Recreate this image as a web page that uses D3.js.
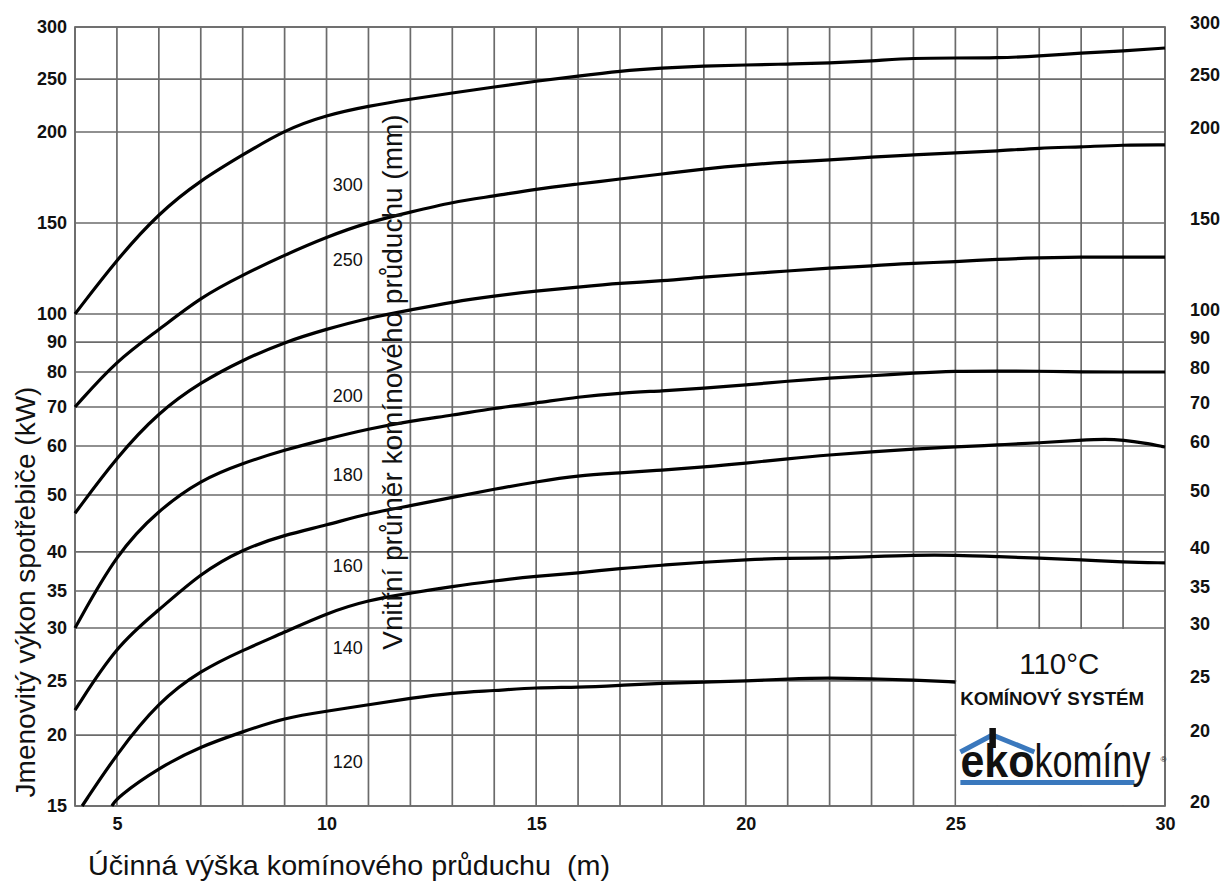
<!DOCTYPE html>
<html><head><meta charset="utf-8">
<script src="https://cdn.jsdelivr.net/npm/d3@7"></script>
<style>
body{margin:0;background:#fff}
svg{display:block}
text{font-family:"Liberation Sans",Arial,Helvetica,sans-serif;fill:#111}
</style>
</head><body>
<svg id="chart" width="1225" height="886"></svg>
<script>
// ---------- DATA ----------
const xTickValues = [5, 10, 15, 20, 25, 30];
const xGridValues = [4,5,6,7,8,9,10,11,12,13,14,15,16,17,18,19,20,21,22,23,24,25,26,27,28,29,30];
const yTickValues = [300, 250, 200, 150, 100, 90, 80, 70, 60, 50, 40, 35, 30, 25, 20, 15];
const yLeftLabels = ["300","250","200","150","100","90","80","70","60","50","40","35","30","25","20","15"];
const yRightLabels = ["300","250","200","150","100","90","80","70","60","50","40","35","30","25","20","20"];
// the printed kW axis is non-uniform: relative position (0 = top, 1 = bottom) of each tick
const yTickFraction = [0, 0.0668, 0.1348, 0.2516, 0.3684, 0.4044, 0.4429, 0.4878, 0.5379, 0.6008, 0.6739, 0.7240, 0.7715, 0.8395, 0.9089, 1];

const hFull = [4,5,6,7,8,9,10,11,12,13,14,15,16,17,18,19,20,21,22,23,24,25,26,27,28,29,30];
const d300 = [100,130,155.5,173.6,187.4,201.9,216,224.5,231,236.8,242.5,248,252.9,257.7,260.6,262.5,263.5,264.4,265.4,267.3,270.2,270.2,270.2,272,275,277,279.8];
const d250 = [70,84,94.3,109.3,121.4,132.4,142.3,150.5,156,161.5,164.8,168.7,171.4,174.2,176.9,179.7,181.9,183.5,184.6,186.3,187.4,188.5,189.6,191.2,191.8,192.9,192.9];
const d200 = [46.8,57.8,68.7,77.1,84,90,94.6,98.6,102.2,106.6,109.9,112.6,114.8,117,118.1,120.3,122,123.6,125.3,126.4,128,128.6,130.2,130.8,131.3,131.3,131.3];
const d180 = [30,39.9,47.4,53.1,56.5,59.2,61.8,64.4,66.4,67.9,69.7,71.1,72.9,74,74.6,75.4,76.3,77.4,78.3,78.9,79.7,80.3,80.3,80.3,80,80,80];
const h160 = [4,5,6,7,8,9,10,11,12,13,14,15,16,17,18,19,20,21,22,23,24,25,26,27,28,28.6,29,29.5,30];
const d160 = [22.3,28.4,32.4,37.3,40.5,43,44.7,46.8,48.1,49.6,51.2,52.7,54,54.5,55.1,55.7,56.5,57.4,58.2,58.8,59.4,59.8,60.3,60.8,61.5,61.8,61.5,60.8,59.8];
const h140 = [4.17,5,6,7,8,9,10,11,12,13,14,15,16,17,18,19,20,21,22,23,24,25,26,27,28,29,30];
const d140 = [15,18.7,23.1,26,27.9,29.6,32,33.8,34.7,35.6,36.3,36.9,37.3,37.9,38.3,38.7,39,39.2,39.2,39.4,39.6,39.6,39.4,39.2,39,38.7,38.6];
const h120 = [4.88,5,6,7,8,9,10,11,12,13,14,15,16,17,18,19,20,21,22,23,24,25];
const d120 = [15,15.6,17.7,19.2,20.3,21.6,22.2,22.8,23.4,23.9,24.1,24.4,24.4,24.6,24.8,24.9,25,25.2,25.3,25.2,25.1,24.9];

const seriesNames = ["300","250","200","180","160","140","120"];
// anchor of each diameter label, in data units (height m, power kW)
const labelH = [10.15,10.15,10.15,10.15,10.15,10.15,10.15];
const labelKW = [170.9,129.7,73.1,54.1,38.3,28.1,18.1];

const xTitle = "Účinná výška komínového průduchu  (m)";
const yTitle = "Jmenovitý výkon spotřebiče (kW)";
const innerTitle = "Vnitřní průměr komínového průduchu (mm)";
const boxTitle = "110°C";
const boxSubtitle = "KOMÍNOVÝ SYSTÉM";

// ---------- LAYOUT ----------
const plot = {left: 75, right: 1165, top: 27, bottom: 806};
const svg = d3.select("#chart");
const FONT = '"Liberation Sans", Arial, Helvetica, sans-serif';

const x = d3.scaleLinear().domain([4, 30]).range([plot.left, plot.right]);
const y = d3.scaleLinear()
  .domain(yTickValues)
  .range(yTickFraction.map(f => plot.top + f * (plot.bottom - plot.top)));

const gridColor = "#6b6b6b";

// grid
const grid = svg.append("g").attr("stroke", gridColor).attr("stroke-width", 1.7);
grid.selectAll("line.v").data(xGridValues).join("line")
  .attr("x1", d => x(d)).attr("x2", d => x(d))
  .attr("y1", plot.top).attr("y2", plot.bottom);
grid.selectAll("line.h").data(yTickValues).join("line")
  .attr("x1", plot.left).attr("x2", plot.right)
  .attr("y1", d => y(d)).attr("y2", d => y(d));

// legend box (white panel)
const bx0 = x(25), bx1 = x(30), by0 = y(30), by1 = y(15);
svg.append("rect").attr("x", bx0 + 1).attr("y", by0 + 1)
  .attr("width", bx1 - bx0 - 2).attr("height", by1 - by0 - 2).attr("fill", "#fff");

function styleTicks(g) {
  g.select(".domain").remove();
  g.selectAll("text").attr("font-size", 18).attr("font-weight", "bold")
    .attr("font-family", FONT).attr("fill", "#111");
}

// left axis
const leftAxis = d3.axisLeft(y).tickValues(yTickValues).tickSize(0).tickPadding(8)
  .tickFormat((d, i) => yLeftLabels[i]);
svg.append("g").attr("transform", `translate(${plot.left},0)`).call(leftAxis).call(styleTicks);

// right axis
const rightAxis = d3.axisRight(y).tickValues(yTickValues).tickSize(0).tickPadding(25)
  .tickFormat((d, i) => yRightLabels[i]);
svg.append("g").attr("transform", `translate(${plot.right},-4)`).call(rightAxis).call(styleTicks);

// bottom axis
const bottomAxis = d3.axisBottom(x).tickValues(xTickValues).tickSize(0).tickPadding(11)
  .tickFormat(d3.format("d"));
svg.append("g").attr("transform", `translate(0,${plot.bottom})`).call(bottomAxis).call(styleTicks);

// frame
svg.append("rect").attr("x", plot.left).attr("y", plot.top)
  .attr("width", plot.right - plot.left).attr("height", plot.bottom - plot.top)
  .attr("fill", "none").attr("stroke", gridColor).attr("stroke-width", 1.7);

// curves
const series = [
  {h: hFull, v: d300}, {h: hFull, v: d250}, {h: hFull, v: d200}, {h: hFull, v: d180},
  {h: h160, v: d160}, {h: h140, v: d140}, {h: h120, v: d120}
];
const line = d3.line().x(d => x(d[0])).y(d => y(d[1])).curve(d3.curveBasis);
svg.append("g").selectAll("path").data(series).join("path")
  .attr("d", s => line(s.h.map((hv, i) => [hv, s.v[i]])))
  .attr("fill", "none").attr("stroke", "#000").attr("stroke-width", 3.2)
  .attr("stroke-linejoin", "round").attr("stroke-linecap", "butt");

// diameter labels
svg.append("g").selectAll("text").data(seriesNames).join("text")
  .attr("x", (d, i) => x(labelH[i])).attr("y", (d, i) => y(labelKW[i]))
  .attr("dy", "0.35em").attr("font-size", 18).text(d => d);

// inner rotated title
svg.append("text").attr("transform", `translate(402,382) rotate(-90)`)
  .attr("text-anchor", "middle").attr("font-size", 28).text(innerTitle);

// axis titles
svg.append("text").attr("transform", `translate(35,592) rotate(-90)`)
  .attr("text-anchor", "middle").attr("font-size", 28).text(yTitle);
svg.append("text").attr("x", 88).attr("y", 875).attr("xml:space", "preserve")
  .attr("font-size", 28).attr("textLength", 522).attr("lengthAdjust", "spacingAndGlyphs").text(xTitle);

// legend box content
const bc = (bx0 + bx1) / 2;
svg.append("text").attr("x", bc - 1).attr("y", by0 + 46).attr("text-anchor", "middle")
  .attr("font-size", 29).attr("textLength", 80).attr("lengthAdjust", "spacingAndGlyphs").text(boxTitle);
svg.append("text").attr("x", bc - 8).attr("y", by0 + 77).attr("text-anchor", "middle")
  .attr("font-size", 18).attr("font-weight", "bold")
  .attr("textLength", 184).attr("lengthAdjust", "spacingAndGlyphs").text(boxSubtitle);

// logo
const lx = bx0 + 5, lb = by1 - 29;
const blue = "#3a78bd";
svg.append("path")
  .attr("d", `M${lx},${lb - 25} L${lx + 32},${lb - 42} L${lx + 74},${lb - 25}`)
  .attr("fill", "none").attr("stroke", blue).attr("stroke-width", 5);
svg.append("rect").attr("x", lx).attr("y", lb + 3).attr("width", 174).attr("height", 5).attr("fill", blue);
svg.append("rect").attr("x", lx + 29).attr("y", lb - 49).attr("width", 6.5).attr("height", 20).attr("fill", "#111");
svg.append("text").attr("transform", `translate(${lx},${lb}) scale(1,1.12)`)
  .attr("font-size", 41).attr("font-weight", "bold")
  .attr("textLength", 74).attr("lengthAdjust", "spacingAndGlyphs").text("eko");
svg.append("text").attr("transform", `translate(${lx + 74},${lb}) scale(1,1.22)`)
  .attr("font-family", "Lato, 'Open Sans', sans-serif").attr("font-weight", 300)
  .attr("font-size", 38).attr("textLength", 116).attr("lengthAdjust", "spacingAndGlyphs").text("komíny");
svg.append("text").attr("x", lx + 200).attr("y", lb - 15).attr("font-size", 8).attr("fill", "#888").text("®");
</script>
</body></html>
